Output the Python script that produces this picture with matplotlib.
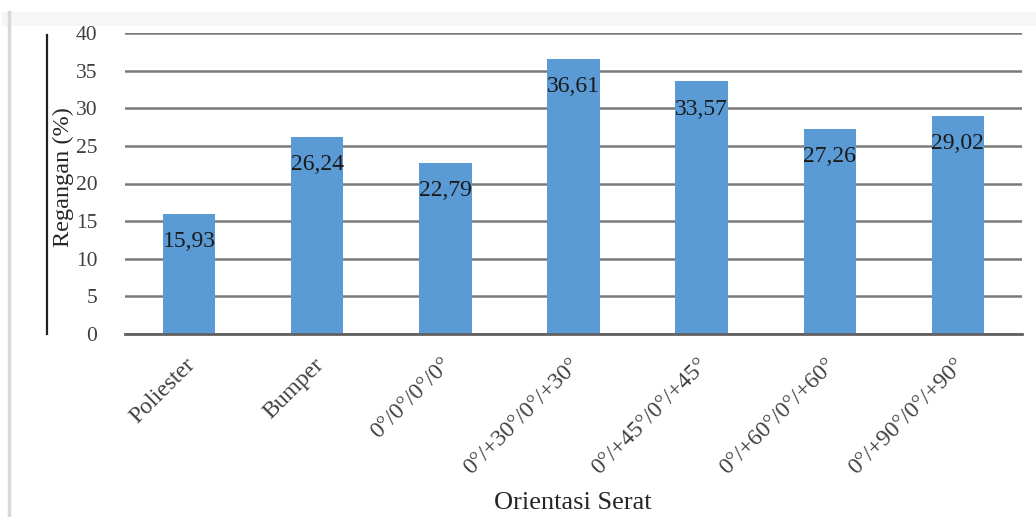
import matplotlib
matplotlib.use("Agg")
import matplotlib.pyplot as plt
from matplotlib.lines import Line2D
import matplotlib.transforms as mtransforms

categories = ["Poliester", "Bumper", "0°/0°/0°/0°", "0°/+30°/0°/+30°",
              "0°/+45°/0°/+45°", "0°/+60°/0°/+60°", "0°/+90°/0°/+90°"]
values = [15.93, 26.24, 22.79, 36.61, 33.57, 27.26, 29.02]
value_labels = ["15,93", "26,24", "22,79", "36,61", "33,57", "27,26", "29,02"]
yticks = [0, 5, 10, 15, 20, 25, 30, 35, 40]

W, H = 1036, 517
fig = plt.figure(figsize=(W / 100, H / 100), dpi=100)
fig.patch.set_facecolor("white")
plt.rcParams['font.family'] = ['Liberation Serif', 'DejaVu Serif']

ax = fig.add_axes([125 / W, (H - 334) / H, (1022 - 125) / W, (334 - 33) / H])
x = list(range(len(categories)))
ax.bar(x, values, width=0.41, color="#5B9BD5", zorder=3)
ax.set_xlim(-0.5, len(categories) - 0.5)
ax.set_ylim(0, 40)
ax.set_yticks(yticks)
ax.set_yticklabels([str(t) for t in yticks], fontsize=15.5, color="#404040")
ax.yaxis.grid(True, color="#7a7a7a", linewidth=1.8, zorder=0)
ax.set_axisbelow(True)
for s in ["top", "right", "left"]:
    ax.spines[s].set_visible(False)
ax.spines["bottom"].set_color("#606060")
ax.spines["bottom"].set_linewidth(2)
ax.spines["bottom"].set_zorder(4)
ax.tick_params(axis="y", length=0, pad=20)
ax.tick_params(axis="x", length=0, pad=20)

ax.set_xticks(x)
ax.set_xticklabels(categories, rotation=45, ha="right", va="center",
                   rotation_mode="anchor", fontsize=17, color="#404040")
offset = mtransforms.ScaledTranslation(3 / 100, 0, fig.dpi_scale_trans)
for lbl in ax.get_xticklabels():
    lbl.set_transform(lbl.get_transform() + offset)

for xi, v, t in zip(x, values, value_labels):
    ax.annotate(t, (xi, v), xytext=(0, -20), textcoords="offset points",
                ha="center", va="center", fontsize=17, color="#1a1a1a", zorder=5)

fig.text(63 / W, 1 - 177 / H, "Regangan (%)", rotation=90, ha="center",
         va="center", fontsize=17.5, color="#262626")
fig.text(573 / W, 1 - 503 / H, "Orientasi Serat", ha="center", va="center",
         fontsize=19, color="#262626")

# decorative lines from the scanned page
fig.add_artist(Line2D([47 / W, 47 / W], [1 - 35 / H, 1 - 334 / H],
                      transform=fig.transFigure, color="#222222", linewidth=1.6))
fig.add_artist(Line2D([9 / W, 9 / W], [1 - 12 / H, 0],
                      transform=fig.transFigure, color="#d8d8d8", linewidth=2.5))
fig.add_artist(Line2D([9 / W, 1], [1 - 19 / H, 1 - 19 / H],
                      transform=fig.transFigure, color="#f6f6f6", linewidth=10,
                      zorder=-1))

fig.savefig("out.png", dpi=100, facecolor="white")
